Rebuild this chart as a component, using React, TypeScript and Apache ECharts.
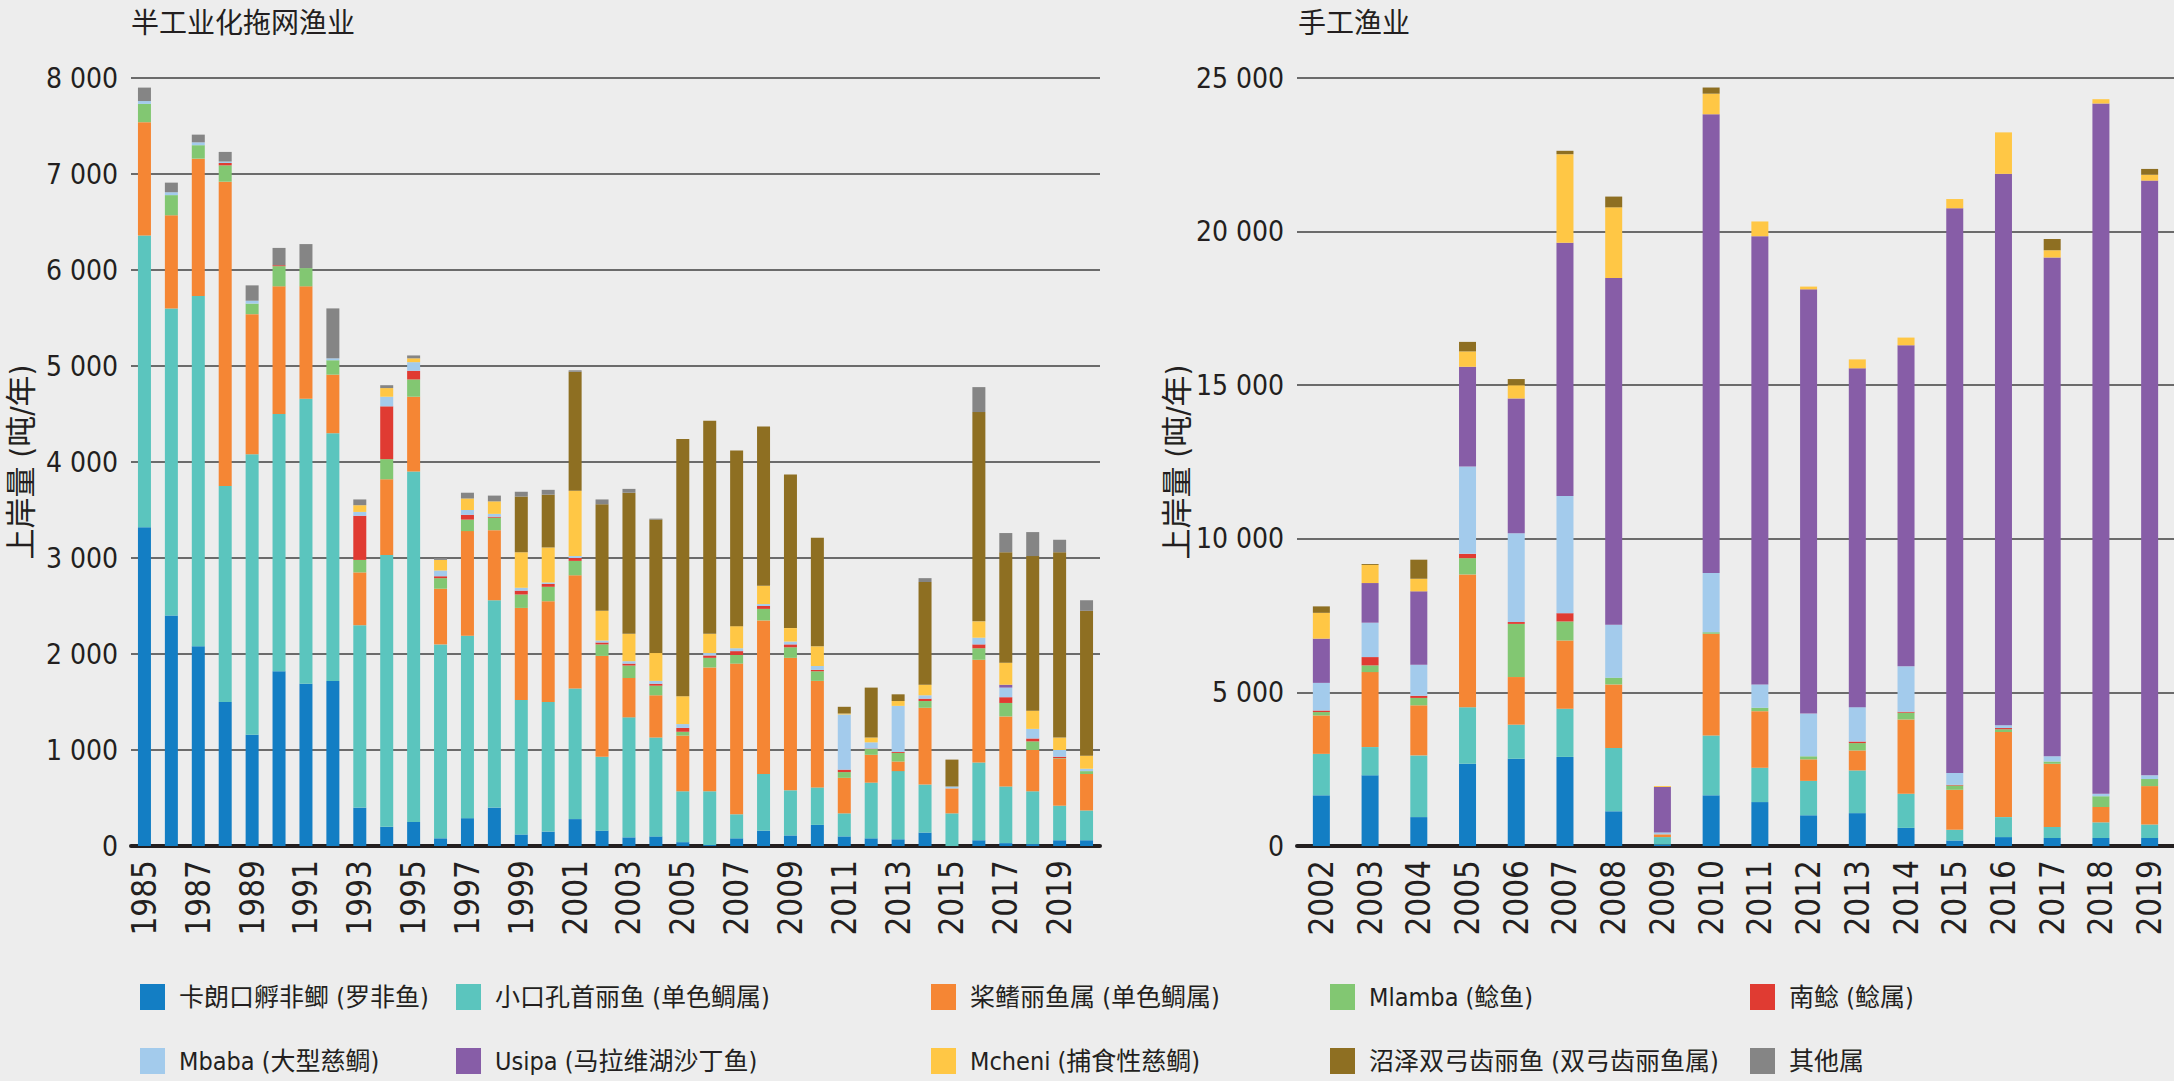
import React, { useEffect, useRef } from 'react';
import * as echarts from 'echarts';

// ---------- categories ----------
const leftYears = ['1985','1986','1987','1988','1989','1990','1991','1992','1993','1994','1995','1996','1997','1998','1999','2000','2001','2002','2003','2004','2005','2006','2007','2008','2009','2010','2011','2012','2013','2014','2015','2016','2017','2018','2019','2020'];
const rightYears = ['2002','2003','2004','2005','2006','2007','2008','2009','2010','2011','2012','2013','2014','2015','2016','2017','2018','2019'];

const speciesNames = [
  '卡朗口孵非鲫 (罗非鱼)',
  '小口孔首丽鱼 (单色鲷属)',
  '桨鳍丽鱼属 (单色鲷属)',
  'Mlamba (鲶鱼)',
  '南鲶 (鲶属)',
  'Mbaba (大型慈鲷)',
  'Usipa (马拉维湖沙丁鱼)',
  'Mcheni (捕食性慈鲷)',
  '沼泽双弓齿丽鱼 (双弓齿丽鱼属)',
  '其他属',
];
const speciesColors = ['#137ec4', '#5bc5be', '#f58634', '#82c772', '#e03b32', '#a3cbec', '#875da7', '#ffc745', '#8e6f22', '#858585'];

// ---------- semi-industrial trawl fishery (t/yr), 1985–2020 ----------
const leftTilapia = [3320,2400,2080,1500,1160,1820,1690,1720,400,200,250,80,290,400,120,150,280,160,90,100,40,10,80,160,110,220,100,80,70,140,0,60,30,20,60,60];
const leftUtaka = [3040,3200,3650,2250,2920,2680,2970,2580,1900,2830,3650,2020,1900,2160,1400,1350,1360,770,1250,1030,530,560,250,590,470,390,240,580,710,500,340,810,590,550,360,310];
const leftChambo = [1180,970,1430,3170,1460,1330,1170,610,550,790,780,580,1090,730,960,1050,1180,1050,410,440,580,1290,1570,1600,1380,1110,370,290,100,800,260,1070,730,430,490,380];
const leftMlamba = [190,210,140,170,110,210,190,150,130,210,180,110,120,130,140,150,150,120,130,100,40,100,90,120,110,100,60,60,90,70,0,120,140,90,5,30];
const leftBarbus = [0,0,0,25,0,10,0,0,460,550,90,20,50,10,40,30,30,20,20,20,40,25,40,30,30,15,25,5,10,25,0,40,60,30,15,0];
const leftMbaba = [30,30,30,15,30,0,0,20,40,100,90,60,50,30,30,15,20,20,25,30,40,25,30,20,30,40,575,65,480,35,20,70,100,100,70,25];
const leftUsipa = [0,0,0,0,0,0,0,0,0,0,0,0,0,0,0,0,0,0,0,0,0,0,0,0,0,0,0,0,0,0,0,0,30,0,0,0];
const leftMcheni = [0,0,0,0,0,0,0,0,70,90,40,110,120,130,370,365,680,310,285,290,290,200,230,190,140,205,10,50,50,110,0,170,230,190,130,135];
const leftKambuzi = [0,0,0,0,0,0,0,0,0,0,0,0,0,0,580,550,1240,1110,1470,1390,2680,2220,1830,1660,1600,1130,70,520,70,1070,280,2180,1150,1610,1930,1510];
const leftOther = [140,100,80,100,160,180,250,520,60,30,30,20,60,60,50,50,15,50,40,10,0,0,0,0,0,0,0,0,0,40,0,260,200,250,130,110];

// ---------- artisanal fishery (t/yr), 2002–2019 ----------
const rightTilapia = [1650,2300,940,2680,2840,2900,1130,50,1650,1430,1000,1070,590,180,290,260,260,260];
const rightUtaka = [1350,920,2010,1840,1110,1570,2060,240,1950,1120,1120,1390,1110,350,650,360,510,440];
const rightChambo = [1250,2440,1630,4320,1550,2220,2070,90,3310,1840,700,650,2420,1300,2770,2060,500,1250];
const rightMlamba = [110,220,240,530,1730,620,220,0,50,110,100,240,220,140,90,70,350,230];
const rightBarbus = [50,270,70,140,60,270,0,0,0,0,0,50,30,20,40,0,0,0];
const rightMbaba = [900,1120,1010,2840,2890,3810,1720,60,1930,760,1390,1120,1480,390,90,170,80,120];
const rightUsipa = [1440,1290,2390,3250,4390,8250,11290,1480,14930,14590,13810,11030,10450,18380,17950,16240,22470,19360];
const rightMcheni = [840,590,410,500,430,2880,2300,30,670,480,90,290,250,300,1350,230,140,190];
const rightKambuzi = [210,30,620,310,200,110,350,0,200,0,0,0,0,0,0,370,0,190];
const rightOther = [0,0,0,0,0,0,0,0,0,0,0,0,0,0,0,0,0,0];

const leftSeriesData = [leftTilapia, leftUtaka, leftChambo, leftMlamba, leftBarbus, leftMbaba, leftUsipa, leftMcheni, leftKambuzi, leftOther];
const rightSeriesData = [rightTilapia, rightUtaka, rightChambo, rightMlamba, rightBarbus, rightMbaba, rightUsipa, rightMcheni, rightKambuzi, rightOther];

const panelTitles = ['半工业化拖网渔业', '手工渔业'];
const yAxisName = '上岸量 (吨/年)';

// legend layout: columns (two rows each)
const legendColumns = [
  [0, 5],
  [1, 6],
  [2, 7],
  [3, 8],
  [4, 9],
];
const legendColumnX = [140, 456, 931, 1330, 1750];
const legendRowTop = [984, 1048];

const TEXT = '#231f20';
const NUM_FONT = "'Liberation Sans Narrow', 'DejaVu Sans Condensed', 'Noto Sans CJK SC', sans-serif";
const CJK_FONT = "'Noto Sans CJK SC', sans-serif";

const fmt = (v: number) => String(v).replace(/\B(?=(\d{3})+(?!\d))/g, ' ');

export default function App() {
  const ref = useRef<HTMLDivElement>(null);

  useEffect(() => {
    if (!ref.current) return;
    const chart = echarts.init(ref.current, undefined, { renderer: 'svg' });

    const yAxisCommon = (max: number, interval: number, nameGap: number, gridIndex: number) => ({
      type: 'value' as const,
      gridIndex,
      min: 0,
      max,
      interval,
      name: yAxisName,
      nameLocation: 'middle' as const,
      nameRotate: 90,
      nameGap,
      nameTextStyle: { fontSize: 31, color: TEXT, fontFamily: NUM_FONT },
      axisLine: { show: false },
      axisTick: { show: false },
      axisLabel: { fontSize: 28, color: TEXT, fontFamily: NUM_FONT, margin: 13, formatter: (v: number) => fmt(v) },
      splitLine: { lineStyle: { color: '#3f3f3f', width: 1.5 } },
    });

    const xAxisCommon = (data: string[], gridIndex: number, interval: number) => ({
      type: 'category' as const,
      gridIndex,
      data,
      axisLine: { lineStyle: { color: TEXT, width: 4 } },
      axisTick: { show: false },
      axisLabel: { rotate: 90, interval, fontSize: 33, color: TEXT, fontFamily: NUM_FONT, margin: 14 },
    });

    const series: any[] = [];
    speciesNames.forEach((name, i) => {
      series.push({
        name,
        type: 'bar',
        stack: 'left',
        xAxisIndex: 0,
        yAxisIndex: 0,
        barWidth: 13,
        itemStyle: { color: speciesColors[i] },
        data: leftSeriesData[i],
      });
    });
    speciesNames.forEach((name, i) => {
      series.push({
        name,
        type: 'bar',
        stack: 'right',
        xAxisIndex: 1,
        yAxisIndex: 1,
        barWidth: 17,
        itemStyle: { color: speciesColors[i] },
        data: rightSeriesData[i],
      });
    });

    const legends: any[] = [];
    legendColumns.forEach((col, ci) => {
      col.forEach((si, ri) => {
        legends.push({
          data: [speciesNames[si]],
          left: legendColumnX[ci],
          top: legendRowTop[ri],
          padding: 0,
          icon: 'rect',
          itemWidth: 25,
          itemHeight: 26,
          selectedMode: false,
          textStyle: { fontSize: 25, color: TEXT, fontFamily: NUM_FONT, padding: [0, 0, 0, 9] },
        });
      });
    });

    chart.setOption({
      animation: false,
      backgroundColor: '#ededed',
      title: [
        { text: panelTitles[0], left: 131, top: 7, padding: 0, textStyle: { fontSize: 28, fontWeight: 'normal', color: TEXT, fontFamily: CJK_FONT } },
        { text: panelTitles[1], left: 1298, top: 7, padding: 0, textStyle: { fontSize: 28, fontWeight: 'normal', color: TEXT, fontFamily: CJK_FONT } },
      ],
      legend: legends,
      grid: [
        { left: 131, right: 1074, top: 78, bottom: 235 },
        { left: 1297, right: -6, top: 78, bottom: 235 },
      ],
      xAxis: [xAxisCommon(leftYears, 0, 1), xAxisCommon(rightYears, 1, 0)],
      yAxis: [yAxisCommon(8000, 1000, 95, 0), yAxisCommon(25000, 5000, 96, 1)],
      series,
    });

    return () => chart.dispose();
  }, []);

  return (
    <div
      ref={ref}
      style={{ position: 'fixed', left: 0, top: 0, width: 2174, height: 1081, background: '#ededed' }}
    />
  );
}
